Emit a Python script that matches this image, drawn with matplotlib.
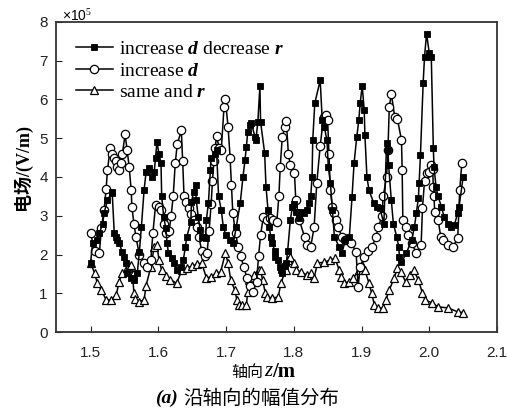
import matplotlib
matplotlib.use('Agg')
import matplotlib.pyplot as plt
from matplotlib.ticker import FormatStrFormatter

# ---------------- data (E in units of 1e5 V/m) ----------------
z_sq = [1.500, 1.503, 1.509, 1.513, 1.518, 1.520, 1.525, 1.531, 1.532, 1.535, 1.538, 1.539,
        1.542, 1.547, 1.550, 1.553, 1.554, 1.560, 1.564, 1.569, 1.572, 1.575, 1.579, 1.582,
        1.586, 1.591, 1.594, 1.596, 1.598, 1.601, 1.604, 1.605, 1.608, 1.611, 1.613, 1.615,
        1.620, 1.623, 1.627, 1.633, 1.637, 1.640, 1.642, 1.648, 1.649, 1.652, 1.655, 1.656,
        1.659, 1.662, 1.664, 1.670, 1.671, 1.674, 1.677, 1.678, 1.684, 1.686, 1.689, 1.693,
        1.696, 1.700, 1.706, 1.711, 1.715, 1.721, 1.725, 1.728, 1.730, 1.732, 1.735, 1.737,
        1.743, 1.744, 1.747, 1.750, 1.751, 1.757, 1.759, 1.762, 1.764, 1.766, 1.768, 1.772,
        1.773, 1.776, 1.779, 1.781, 1.783, 1.787, 1.789, 1.791, 1.795, 1.798, 1.800, 1.803,
        1.807, 1.810, 1.815, 1.819, 1.822, 1.825, 1.827, 1.828, 1.831, 1.839, 1.842, 1.845,
        1.849, 1.851, 1.854, 1.857, 1.860, 1.867, 1.871, 1.876, 1.882, 1.886, 1.889, 1.893,
        1.896, 1.898, 1.901, 1.904, 1.905, 1.908, 1.911, 1.918, 1.923, 1.927, 1.933, 1.937,
        1.939, 1.940, 1.944, 1.947, 1.952, 1.955, 1.956, 1.959, 1.966, 1.974, 1.978, 1.981,
        1.984, 1.985, 1.987, 1.991, 1.993, 1.996, 2.000, 2.003, 2.006, 2.007, 2.010, 2.013,
        2.018, 2.022, 2.028, 2.032, 2.037, 2.042, 2.044, 2.050]
e_sq = [1.78, 2.30, 2.37, 2.55, 2.80, 3.07, 3.40, 3.60, 3.58, 2.55, 2.45, 2.37,
        2.30, 2.06, 1.94, 1.78, 1.52, 1.40, 1.34, 1.52, 2.06, 2.70, 3.66, 4.13,
        4.23, 4.00, 4.13, 4.50, 4.90, 4.60, 4.36, 3.50, 2.97, 2.68, 2.30, 2.03,
        1.90, 1.78, 1.60, 1.68, 1.86, 2.20, 2.45, 2.84, 3.36, 3.60, 3.80, 3.40,
        2.97, 2.63, 2.45, 2.43, 2.90, 3.33, 4.18, 4.50, 4.60, 4.70, 3.50, 3.15,
        2.70, 2.50, 2.37, 2.30, 2.70, 3.33, 4.00, 4.44, 4.77, 5.16, 5.34, 5.40,
        5.03, 4.95, 5.42, 6.35, 5.42, 4.62, 3.74, 3.15, 2.70, 2.45, 2.30, 2.10,
        1.94, 1.86, 1.68, 1.60, 1.52, 1.70, 1.78, 2.10, 2.90, 3.23, 3.30, 3.10,
        2.95, 3.10, 3.07, 3.15, 3.33, 3.50, 4.00, 4.95, 5.90, 6.50, 5.47, 5.30,
        4.95, 4.26, 3.85, 3.15, 2.45, 2.20, 2.03, 2.37, 2.45, 3.48, 4.36, 5.03,
        5.47, 5.90, 6.35, 5.73, 5.08, 4.00, 3.66, 3.33, 3.23, 3.20, 2.80, 4.87,
        4.70, 4.30, 3.40, 2.80, 2.45, 2.20, 1.94, 1.80, 2.03, 2.37, 2.70, 3.07,
        3.46, 3.85, 4.57, 6.43, 7.10, 7.70, 7.20, 7.10, 4.75, 4.26, 3.75, 3.50,
        3.23, 2.97, 2.80, 2.70, 2.76, 3.07, 3.23, 4.00]

z_ci = [1.500, 1.506, 1.513, 1.516, 1.520, 1.523, 1.525, 1.529, 1.532, 1.535, 1.538, 1.539,
        1.542, 1.545, 1.547, 1.551, 1.554, 1.557, 1.560, 1.561, 1.564, 1.567, 1.572, 1.579,
        1.583, 1.589, 1.592, 1.596, 1.601, 1.604, 1.608, 1.612, 1.616, 1.619, 1.622, 1.625,
        1.628, 1.634, 1.636, 1.638, 1.641, 1.645, 1.649, 1.653, 1.657, 1.660, 1.664, 1.669,
        1.672, 1.675, 1.678, 1.680, 1.682, 1.684, 1.686, 1.690, 1.693, 1.697, 1.699, 1.703,
        1.706, 1.708, 1.710, 1.714, 1.718, 1.722, 1.726, 1.731, 1.736, 1.740, 1.745, 1.748,
        1.751, 1.755, 1.760, 1.765, 1.770, 1.775, 1.778, 1.780, 1.783, 1.787, 1.789, 1.792,
        1.795, 1.801, 1.803, 1.808, 1.816, 1.820, 1.825, 1.830, 1.834, 1.839, 1.844, 1.848,
        1.850, 1.852, 1.854, 1.857, 1.860, 1.863, 1.866, 1.871, 1.876, 1.885, 1.892, 1.895,
        1.898, 1.904, 1.910, 1.916, 1.921, 1.925, 1.930, 1.932, 1.937, 1.939, 1.941, 1.944,
        1.949, 1.953, 1.959, 1.960, 1.961, 1.966, 1.968, 1.974, 1.981, 1.988, 1.990, 1.993,
        1.996, 1.999, 2.003, 2.005, 2.006, 2.007, 2.008, 2.013, 2.017, 2.021, 2.028, 2.035,
        2.042, 2.045, 2.048]
e_ci = [2.55, 2.10, 2.03, 2.68, 3.15, 3.70, 4.18, 4.75, 4.60, 4.50, 4.40, 4.26,
        4.18, 4.36, 4.60, 5.10, 4.70, 4.26, 3.66, 3.23, 2.80, 2.45, 2.00, 1.78,
        1.68, 1.86, 2.55, 3.28, 3.23, 3.15, 2.80, 2.55, 2.60, 3.00, 3.50, 4.35,
        4.85, 5.20, 4.40, 3.50, 3.35, 3.20, 3.05, 2.90, 2.70, 2.45, 2.10, 1.95,
        2.05, 2.60, 3.30, 3.90, 4.40, 4.75, 5.05, 4.75, 4.70, 5.80, 6.00, 5.30,
        4.50, 3.80, 3.07, 2.55, 2.20, 1.95, 1.68, 1.40, 1.20, 1.03, 1.30, 1.95,
        2.50, 2.97, 2.90, 2.95, 2.90, 2.85, 3.50, 4.26, 5.03, 5.30, 5.45, 4.60,
        4.30, 4.10, 3.40, 2.90, 2.45, 2.25, 2.20, 2.70, 3.85, 4.80, 5.55, 5.60,
        5.47, 4.60, 3.66, 3.23, 3.07, 2.90, 2.70, 2.45, 2.37, 2.30, 2.06, 1.16,
        1.68, 1.94, 2.10, 2.20, 2.45, 2.70, 3.00, 3.50, 4.00, 4.70, 5.80, 6.15,
        5.55, 5.50, 4.95, 4.18, 2.90, 2.70, 2.50, 2.30, 2.03, 2.25, 3.20, 3.90,
        4.10, 4.13, 4.30, 4.20, 3.75, 3.50, 3.10, 2.90, 2.45, 2.37, 2.25, 2.20,
        2.42, 3.66, 4.35]

z_tr = [1.500, 1.506, 1.510, 1.516, 1.523, 1.530, 1.538, 1.542, 1.547, 1.554, 1.560, 1.562,
        1.564, 1.566, 1.572, 1.579, 1.582, 1.589, 1.594, 1.598, 1.601, 1.605, 1.612, 1.618,
        1.627, 1.635, 1.642, 1.650, 1.657, 1.664, 1.671, 1.678, 1.685, 1.692, 1.699, 1.703,
        1.707, 1.713, 1.716, 1.719, 1.724, 1.730, 1.732, 1.734, 1.741, 1.748, 1.751, 1.754,
        1.758, 1.760, 1.768, 1.777, 1.781, 1.788, 1.792, 1.795, 1.800, 1.804, 1.811, 1.819,
        1.826, 1.830, 1.835, 1.845, 1.854, 1.861, 1.867, 1.869, 1.874, 1.881, 1.888, 1.896,
        1.901, 1.905, 1.911, 1.915, 1.919, 1.924, 1.932, 1.936, 1.941, 1.948, 1.953, 1.958,
        1.965, 1.972, 1.977, 1.984, 1.990, 1.994, 2.004, 2.013, 2.028, 2.042, 2.050]
e_tr = [1.78, 1.52, 1.26, 1.08, 0.83, 0.83, 0.95, 1.30, 1.52, 1.65, 1.73, 1.50,
        1.00, 0.85, 0.78, 0.83, 1.20, 1.68, 2.20, 2.25, 1.86, 1.60, 1.45, 1.35,
        1.26, 1.60, 1.65, 1.70, 1.75, 1.78, 1.40, 1.42, 1.52, 1.55, 2.03, 1.78,
        1.34, 1.08, 0.83, 0.70, 0.70, 0.70, 1.03, 1.34, 1.47, 1.60, 1.60, 1.34,
        1.00, 0.90, 0.88, 0.90, 1.26, 1.60, 1.86, 1.94, 1.78, 1.60, 1.55, 1.47,
        1.52, 1.39, 1.78, 1.80, 1.86, 1.90, 1.60, 1.42, 1.26, 1.30, 1.39, 1.60,
        1.73, 1.60, 1.26, 1.00, 0.70, 0.62, 0.62, 0.83, 1.08, 1.39, 1.65, 1.55,
        1.30, 1.47, 1.60, 1.34, 1.00, 0.83, 0.75, 0.65, 0.62, 0.52, 0.50]

labels = [r'increase $\mathit{d}$ decrease $\mathit{r}$',
          r'increase $\mathit{d}$',
          r'same and $\mathit{r}$']
x_ticks = [1.5, 1.6, 1.7, 1.8, 1.9, 2.0, 2.1]
y_ticks = [0, 1, 2, 3, 4, 5, 6, 7, 8]

# ---------------- style ----------------
plt.rcParams['mathtext.fontset'] = 'custom'
plt.rcParams['mathtext.rm'] = 'Liberation Serif'
plt.rcParams['mathtext.it'] = 'Liberation Serif:italic:bold'
plt.rcParams['mathtext.bf'] = 'Liberation Serif:bold'

W, H = 507, 409
fig = plt.figure(figsize=(W / 100, H / 100), dpi=100)
ax = fig.add_axes([56 / W, 1 - 332 / H, 441 / W, 310 / H])

lw = 1.1
ax.plot(z_sq, e_sq, color='black', lw=lw, marker='s', ms=4.8, mfc='black',
        mec='black', mew=0.6, label=labels[0], zorder=3)
ax.plot(z_ci, e_ci, color='black', lw=lw, marker='o', ms=6.0, mfc='white',
        mec='black', mew=0.9, label=labels[1], zorder=2)
ax.plot(z_tr, e_tr, color='black', lw=lw, marker='^', ms=5.5, mfc='white',
        mec='black', mew=0.9, label=labels[2], zorder=1)

ax.set_xlim(1.449, 2.1)
ax.set_ylim(0, 8)
ax.set_xticks(x_ticks)
ax.set_yticks(y_ticks)
ax.xaxis.set_major_formatter(FormatStrFormatter('%.1f'))
ax.tick_params(direction='in', length=4, width=0.8, labelsize=11, pad=10,
               colors='#222222')
ax.tick_params(axis='y', pad=6)
for lab in ax.get_xticklabels() + ax.get_yticklabels():
    lab.set_fontfamily('Liberation Sans')
for s in ax.spines.values():
    s.set_linewidth(1.3)
    s.set_color('#333333')

leg = ax.legend(loc='upper left', bbox_to_anchor=(0.045, 0.94), frameon=False,
                prop={'family': 'Liberation Serif', 'size': 14},
                handlelength=1.9, handletextpad=0.3, labelspacing=0.2,
                borderpad=0.0, borderaxespad=0.0)

fig.text(62 / W, 1 - 16 / H, r'×10$^{5}$', fontsize=10, family='Liberation Sans',
         va='center', ha='left')

fig.text(22 / W, 1 - 167 / H, '电场/(V/m)', rotation=90, fontsize=13,
         family=['Liberation Serif', 'Noto Sans CJK SC'], fontweight='bold',
         va='center', ha='center')

# x label: 轴向 z/m, built from three pieces
fig.text(263 / W, 1 - 373 / H, '轴向', fontsize=11.5,
         family=['Noto Sans CJK SC'], va='center', ha='right')
fig.text(264 / W, 1 - 372 / H, 'z', fontsize=15, family='Liberation Serif',
         fontstyle='italic', va='center', ha='left')
fig.text(272 / W, 1 - 372 / H, '/m', fontsize=15, family='Liberation Serif',
         fontweight='bold', va='center', ha='left')

fig.text(178 / W, 1 - 398 / H, '(a)', fontsize=14, family='Liberation Serif',
         fontweight='bold', fontstyle='italic', va='center', ha='right')
fig.text(183 / W, 1 - 398 / H, '沿轴向的幅值分布', fontsize=14,
         family=['Noto Sans CJK SC'], va='center', ha='left')

fig.savefig('out.png', dpi=100)
